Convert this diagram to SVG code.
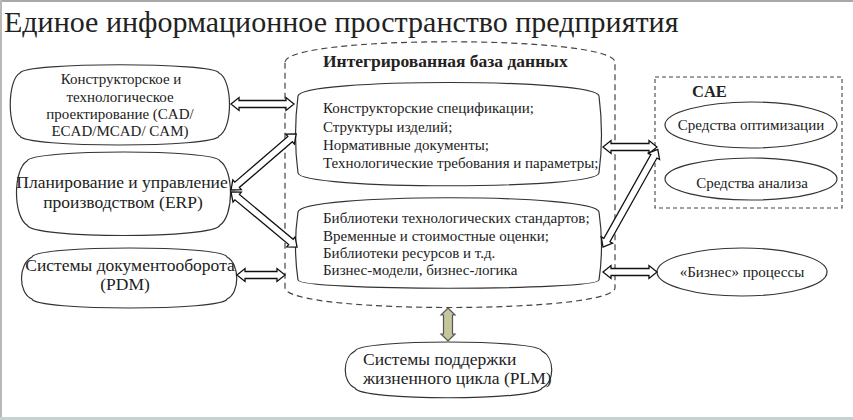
<svg xmlns="http://www.w3.org/2000/svg" width="853" height="420" viewBox="0 0 853 420" font-family="'Liberation Serif','Times New Roman',serif">
<style>
text{font-family:"Liberation Serif","Times New Roman",serif;fill:#222}
.shape{fill:#fff;stroke:#333;stroke-width:1.2}
.dash{fill:none;stroke:#444;stroke-width:1.2;stroke-dasharray:6 4}
.arr{fill:#fff;stroke:#111;stroke-width:1.3;stroke-linejoin:miter}
.t14{font-size:15px}
.t15{font-size:15px}
.t17{font-size:17.5px}
.c{text-anchor:middle}
.b{font-weight:bold}
</style>
<rect x="0" y="0" width="853" height="420" fill="#fff"/>
<line x1="0" y1="1" x2="853" y2="1" stroke="#a8a8a8" stroke-width="2"/>
<line x1="1" y1="0" x2="1" y2="420" stroke="#b8b8b8" stroke-width="2"/>
<line x1="0" y1="418.5" x2="853" y2="418.5" stroke="#c8d0d0" stroke-width="3"/>
<text x="4" y="32" style="font-size:30px">Единое информационное пространство предприятия</text>

<g id="db">
<path class="dash" d="M285,62 C288,35 612,35 615,62 L615,288 C612,314 288,314 285,288 Z"/>
<text class="b" x="323" y="67" style="font-size:17.5px">Интегрированная база данных</text>
</g>
<g id="db-specs">
<path class="shape" d="M298,96 C300,78 597,78 599,96 Q604,135 599,173 C597,190 300,190 298,173 Q293,135 298,96 Z"/>
<text class="t14" x="323" y="113">Конструкторские спецификации;</text>
<text class="t14" x="323" y="132">Структуры изделий;</text>
<text class="t14" x="323" y="150">Нормативные документы;</text>
<text class="t14" x="323" y="168">Технологические требования и параметры;</text>
</g>
<g id="db-libs">
<path class="shape" d="M298,212 C300,193 597,193 599,212 Q604,246 599,280 C597,291 300,291 298,280 Q293,246 298,212 Z"/>
<text class="t14" x="323" y="223">Библиотеки технологических стандартов;</text>
<text class="t14" x="323" y="241">Временные и стоимостные оценки;</text>
<text class="t14" x="323" y="258">Библиотеки ресурсов и т.д.</text>
<text class="t14" x="323" y="275">Бизнес-модели, бизнес-логика</text>
</g>
<g id="cad">
<path class="shape" d="M20,73 C24,62 215,62 219,73 C233,80 233,129 219,136 C215,148 24,148 20,136 C7,129 7,80 20,73 Z"/>
<text class="t15 c" x="121" y="84">Конструкторское и</text>
<text class="t15 c" x="120" y="102">технологическое</text>
<text class="t15 c" x="120" y="119">проектирование (CAD/</text>
<text class="t15 c" x="120" y="136">ECAD/MCAD/ CAM)</text>
</g>
<g id="erp">
<path class="shape" d="M27,161 C31,149 216,149 220,161 C234,170 234,216 220,225 C216,239 31,239 27,225 C13,216 13,170 27,161 Z"/>
<text class="t17 c" x="122" y="188">Планирование и управление</text>
<text class="t17 c" x="123" y="208">производством (ERP)</text>
</g>
<g id="pdm">
<path class="shape" d="M32,257 C36,245 223,245 227,257 C240,264 240,293 227,299 C223,311 36,311 32,299 C18,293 18,264 32,257 Z"/>
<text class="t17 c" x="130" y="271">Системы документооборота</text>
<text class="t17 c" x="125" y="290">(PDM)</text>
</g>
<g id="plm">
<path class="shape" d="M355,351 C359,339 538,339 542,351 C555,358 555,382 542,388 C538,401 359,401 355,388 C342,382 342,358 355,351 Z"/>
<text class="t17" x="363" y="365">Системы поддержки</text>
<text class="t17" x="363" y="384">жизненного цикла (PLM)</text>
</g>
<g id="cae">
<rect x="655" y="77" width="187" height="131" fill="none" stroke="#444" stroke-width="1.1" stroke-dasharray="4 3"/>
<text class="b" x="692" y="97" style="font-size:16.5px">CAE</text>
</g>
<g id="optim">
<ellipse class="shape" cx="751" cy="125" rx="86" ry="23"/>
<text class="t15 c" x="751" y="130">Средства оптимизации</text>
</g>
<g id="analysis">
<ellipse class="shape" cx="751" cy="179" rx="86" ry="21"/>
<text class="t15 c" x="752" y="188">Средства анализа</text>
</g>
<g id="business">
<ellipse class="shape" cx="742" cy="272" rx="85" ry="24"/>
<text class="t15 c" x="742" y="277">«Бизнес» процессы</text>
</g>

<g id="connectors">
<polygon class="arr" points="231,104 239,97.5 239,100.5 286,100.5 286,97.5 294,104 286,110.5 286,107.5 239,107.5 239,110.5"/>
<polygon class="arr" transform="translate(231,190) rotate(-40.7)" points="0,0 8,-6.5 8,-3.5 78,-3.5 78,-6.5 86,0 78,6.5 78,3.5 8,3.5 8,6.5"/>
<polygon class="arr" transform="translate(231,192) rotate(39.8)" points="0,0 8,-6.5 8,-3.5 78,-3.5 78,-6.5 86,0 78,6.5 78,3.5 8,3.5 8,6.5"/>
<polygon class="arr" points="237,275 245,268.5 245,271.5 277,271.5 277,268.5 285,275 277,281.5 277,278.5 245,278.5 245,281.5"/>
<polygon class="arr" points="603,147 611,140.5 611,143.5 649,143.5 649,140.5 657,147 649,153.5 649,150.5 611,150.5 611,153.5"/>
<polygon class="arr" transform="translate(603,247) rotate(-60.7)" points="0,0 8,-6.5 8,-3.5 104,-3.5 104,-6.5 112,0 104,6.5 104,3.5 8,3.5 8,6.5"/>
<polygon class="arr" points="603,272 611,265.5 611,268.5 649,268.5 649,265.5 657,272 649,278.5 649,275.5 611,275.5 611,278.5"/>
<polygon points="448,308 455,315 452.5,315 452.5,334 455,334 448,341 441,334 443.5,334 443.5,315 441,315" fill="#c6c69c" stroke="#555" stroke-width="1.2"/>
</g>
</svg>
